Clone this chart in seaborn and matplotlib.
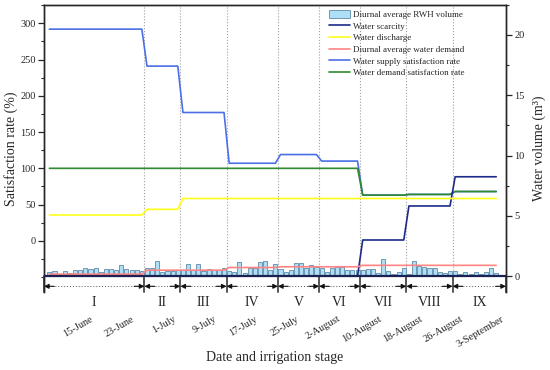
import numpy as np
import pandas as pd
import seaborn as sns
import matplotlib.pyplot as plt
import matplotlib.transforms as mtransforms
from matplotlib.patches import Patch
from matplotlib.lines import Line2D

# daily record, 7 June - 2 September
dates = pd.date_range('2021-06-07', '2021-09-02', freq='D')

stage_names = ['I', 'II', 'III', 'IV', 'V', 'VI', 'VII', 'VIII', 'IX']
stage_days = [19, 7, 9, 10, 8, 8, 9, 9, 9]

# per stage values
supply_rate = [292, 241, 177, 107, 119, 110, 63, 64, 68]      # %
demand_rate = [100, 100, 100, 100, 100, 100, 63, 64, 68]      # %
discharge = [5.07, 5.54, 6.44, 6.44, 6.44, 6.44, 6.44, 6.44, 6.44]  # m3
scarcity = [0, 0, 0, 0, 0, 0, 3.0, 5.82, 8.24]                # m3
water_demand = [0.17, 0.5, 0.5, 0.72, 0.78, 0.78, 0.9, 0.9, 0.9]  # m3

# diurnal average RWH volume (m3), one per day
rwh_volume = [
    0.36, 0.47, 0.19, 0.47, 0.28, 0.55, 0.55, 0.66, 0.61, 0.66,
    0.33, 0.61, 0.61, 0.50, 0.91, 0.61, 0.55, 0.50, 0.47,
    0.69, 0.69, 1.30, 0.33, 0.47, 0.47, 0.55,
    0.55, 1.05, 0.50, 1.05, 0.45, 0.63, 0.50, 0.50, 0.72,
    0.45, 0.36, 1.16, 0.23, 0.70, 0.70, 1.17, 1.28, 0.55, 1.05,
    0.60, 0.38, 0.55, 1.10, 1.10, 0.70, 0.95, 0.80,
    0.66, 0.35, 0.66, 0.75, 0.75, 0.55, 0.50, 0.50,
    0.53, 0.60, 0.60, 0.25, 1.45, 0.40, 0.20, 0.32, 0.72,
    0.20, 1.27, 0.83, 0.75, 0.66, 0.70, 0.33, 0.26, 0.47,
    0.40, 0.22, 0.37, 0.17, 0.33, 0.17, 0.32, 0.64, 0.28,
]

tick_dates = ['2021-06-15', '2021-06-23', '2021-07-01', '2021-07-09', '2021-07-17',
              '2021-07-25', '2021-08-02', '2021-08-10', '2021-08-18', '2021-08-26',
              '2021-09-03']
tick_labels = ['15-June', '23-June', '1-July', '9-July', '17-July', '25-July',
               '2-August', '10-August', '18-August', '26-August', '3-September']

df = pd.DataFrame({
    'day': (dates - dates[0]).days,
    'rwh': rwh_volume,
    'supply_rate': np.repeat(supply_rate, stage_days),
    'demand_rate': np.repeat(demand_rate, stage_days),
    'discharge': np.repeat(discharge, stage_days),
    'scarcity': np.repeat(scarcity, stage_days),
    'demand': np.repeat(water_demand, stage_days),
})

c_bar, c_bar_edge = '#ade0f6', '#5f8aa8'
c_scar, c_dis, c_dem = '#1c2a8a', '#ffff1a', '#ff8585'
c_sup, c_dsr = '#4a6fe6', '#2f8a2f'

sns.set_style('ticks')
plt.rcParams['font.family'] = ['Liberation Serif', 'DejaVu Sans']
plt.rcParams['axes.linewidth'] = 1.0

fig = plt.figure(figsize=(5.5, 3.7), dpi=100)
ax = fig.add_axes([44 / 550, 1 - 292 / 370, 462 / 550, 287.3 / 370])
ax2 = ax.twinx()

sns.barplot(data=df, x='day', y='rwh', native_scale=True, errorbar=None, color=c_bar,
            saturation=1, edgecolor=c_bar_edge, linewidth=0.6, width=0.8, ax=ax2)
sns.lineplot(data=df, x='day', y='scarcity', color=c_scar, lw=1.2, ax=ax2)
sns.lineplot(data=df, x='day', y='discharge', color=c_dis, lw=1.2, ax=ax2)
sns.lineplot(data=df, x='day', y='demand', color=c_dem, lw=1.2, ax=ax2)
sns.lineplot(data=df, x='day', y='supply_rate', color=c_sup, lw=1.2, ax=ax)
sns.lineplot(data=df, x='day', y='demand_rate', color=c_dsr, lw=1.2, ax=ax)

xlim = (-1.05, 88.9)
ax.set_xlim(*xlim)
ax.set_ylim(-70.6, 325.7)
ax2.set_ylim(-1.31, 22.49)
ax2.axhline(0, color='#1b2150', lw=1.6, zorder=5)

ax.set_yticks(range(0, 301, 50))
ax.set_yticks(range(-50, 326, 25), minor=True)
ax2.set_yticks(range(0, 21, 5))
ax2.set_yticks(np.arange(0, 22.6, 2.5), minor=True)
for a in (ax, ax2):
    a.tick_params(axis='y', labelsize=7.5, length=4, width=0.9, pad=2)
    a.tick_params(axis='y', which='minor', length=2, width=0.8)
    a.spines['bottom'].set_visible(False)

day_ticks = (pd.to_datetime(tick_dates) - dates[0]).days
ax.set_xticks(day_ticks)
ax.set_xticklabels(tick_labels, rotation=30, ha='right', rotation_mode='anchor', fontsize=7.5)
ax.tick_params(axis='x', length=0, pad=16)

ax.set_xlabel('Date and irrigation stage', fontsize=10)
ax.set_ylabel('Satisfaction rate (%)', fontsize=10)
ax2.set_ylabel('Water volume (m³)', fontsize=10)
ax.xaxis.set_label_coords(0.5, -0.205)
ax.yaxis.set_label_coords(-0.057, 0.5)
ax2.yaxis.set_label_coords(1.057, 0.5)

# stage bands below the plot
trans = mtransforms.blended_transform_factory(ax.transData, ax.transAxes)
base = 1.31 / (22.49 + 1.31)
y_arr = base * 0.36
edges = list(np.cumsum([0] + stage_days) - 0.5)
edges[0], edges[-1] = xlim
for x in edges[1:-1]:
    ax.plot([x, x], [base, 1], ls=':', color='#a0a0a0', lw=0.8, transform=trans, zorder=0)
for x in edges:
    ax.plot([x, x], [0, base], color='#555555', lw=1.4, transform=trans, clip_on=False)
for name, x0, x1 in zip(stage_names, edges[:-1], edges[1:]):
    ax.plot([x0 + 1.5, x1 - 1.5], [y_arr, y_arr], ls=(0, (1, 2)), color='#555555', lw=0.7,
            transform=trans, clip_on=False)
    for a, b in [(x0, x0 + 2.0), (x1, x1 - 2.0)]:
        ax.annotate('', xy=(a, y_arr), xytext=(b, y_arr), xycoords=trans, textcoords=trans,
                    annotation_clip=False,
                    arrowprops=dict(arrowstyle='-|>', color='#111111', lw=0.8,
                                    mutation_scale=7, shrinkA=0, shrinkB=0))
    ax.text((x0 + x1) / 2, -0.037, name, transform=trans, ha='center', va='center', fontsize=10)

for a in (ax, ax2):
    if a.get_legend():
        a.get_legend().remove()

handles = [Patch(facecolor=c_bar, edgecolor=c_bar_edge, lw=0.6),
           Line2D([], [], color=c_scar, lw=1.2),
           Line2D([], [], color=c_dis, lw=1.2),
           Line2D([], [], color=c_dem, lw=1.2),
           Line2D([], [], color=c_sup, lw=1.2),
           Line2D([], [], color=c_dsr, lw=1.2)]
labels = ['Diurnal average RWH volume', 'Water scarcity', 'Water discharge',
          'Diurnal average water demand', 'Water supply satisfaction rate',
          'Water demand satisfaction rate']
ax2.legend(handles, labels, loc='upper left', bbox_to_anchor=(329 / 550, 1 - 10.5 / 370),
           bbox_transform=fig.transFigure, frameon=False, fontsize=6.5, handlelength=2.3,
           handletextpad=0.35, labelspacing=0.3, borderaxespad=0, borderpad=0,
           handleheight=0.9)

fig.savefig('out.png', dpi=100)
